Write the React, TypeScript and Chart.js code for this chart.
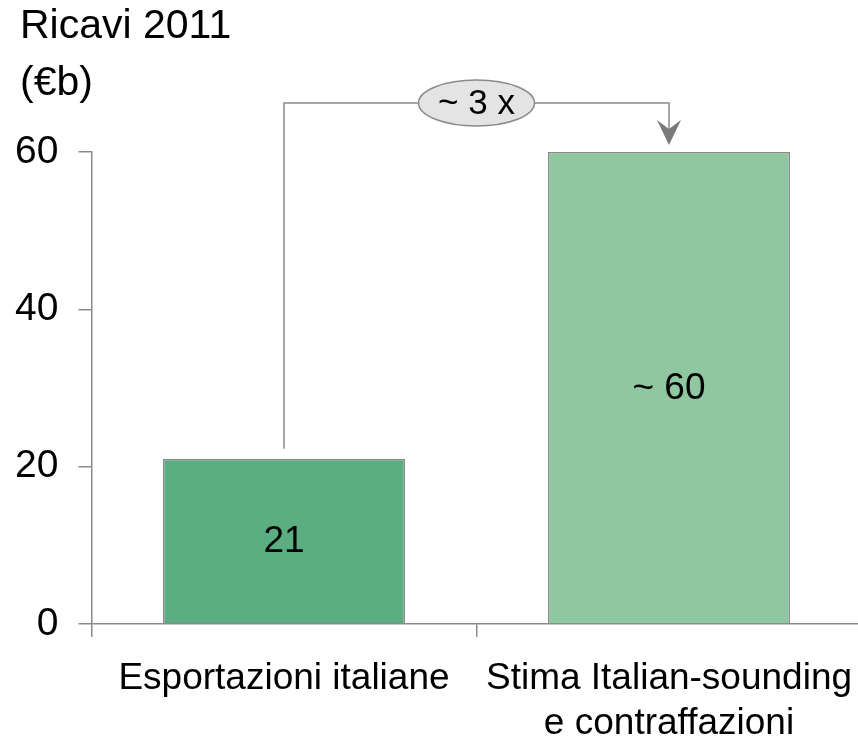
import React, { useEffect, useRef } from 'react';
import { Chart, registerables } from 'chart.js';

Chart.register(...registerables);

const categories: string[][] = [['Esportazioni italiane'], ['Stima Italian-sounding', 'e contraffazioni']];
const values: number[] = [21, 60];
const valueLabels: string[] = ['21', '~ 60'];
const barColors: string[] = ['#5bae82', '#8fc8a0'];
const yTicks: number[] = [0, 20, 40, 60];
const titleLines: string[] = ['Ricavi 2011', '(€b)'];
const ratioLabel = '~ 3 x';

const FONT = '"Liberation Sans", Arial, sans-serif';
const GREY = '#8a8a8a';

const overlay = {
  id: 'overlay',
  afterDraw(chart: any) {
    const ctx = chart.ctx as CanvasRenderingContext2D;
    const meta = chart.getDatasetMeta(0);
    const yScale = chart.scales.y;
    ctx.save();
    // title
    ctx.fillStyle = '#000';
    ctx.font = `41px ${FONT}`;
    ctx.textAlign = 'left';
    ctx.textBaseline = 'alphabetic';
    ctx.fillText(titleLines[0], 12, 30);
    ctx.fillText(titleLines[1], 12, 87);

    // value labels
    ctx.font = `37px ${FONT}`;
    ctx.textAlign = 'center';
    ctx.textBaseline = 'middle';
    meta.data.forEach((bar: any, i: number) => {
      const p = bar.getProps(['x', 'y', 'base'], true);
      ctx.fillText(valueLabels[i], p.x, (p.y + p.base) / 2 + 1);
    });

    // bracket
    const b1 = meta.data[0].getProps(['x', 'y'], true);
    const b2 = meta.data[1].getProps(['x', 'y'], true);
    const lineY = yScale.getPixelForValue(values[1]) - 49;
    const tipY = b2.y - 7;
    ctx.strokeStyle = GREY;
    ctx.lineWidth = 1.5;
    ctx.beginPath();
    ctx.moveTo(b1.x, b1.y - 10);
    ctx.lineTo(b1.x, lineY);
    ctx.lineTo(b2.x, lineY);
    ctx.lineTo(b2.x, tipY - 10);
    ctx.stroke();
    // arrow head
    ctx.fillStyle = '#7a7a7a';
    ctx.beginPath();
    ctx.moveTo(b2.x, tipY);
    ctx.lineTo(b2.x - 12, tipY - 25);
    ctx.lineTo(b2.x, tipY - 16);
    ctx.lineTo(b2.x + 12, tipY - 25);
    ctx.closePath();
    ctx.fill();

    // ellipse
    const cx = (b1.x + b2.x) / 2;
    ctx.beginPath();
    ctx.ellipse(cx, lineY, 58, 23, 0, 0, Math.PI * 2);
    ctx.fillStyle = '#e4e4e4';
    ctx.fill();
    ctx.strokeStyle = GREY;
    ctx.stroke();
    ctx.fillStyle = '#000';
    ctx.font = `35px ${FONT}`;
    ctx.textAlign = 'center';
    ctx.textBaseline = 'middle';
    ctx.fillText(ratioLabel, cx, lineY + 1);
    ctx.restore();
  },
};

export default function App() {
  const ref = useRef<HTMLCanvasElement | null>(null);
  useEffect(() => {
    if (!ref.current) return;
    const chart = new Chart(ref.current, {
      type: 'bar',
      data: {
        labels: categories,
        datasets: [
          {
            data: values,
            backgroundColor: barColors,
            borderColor: GREY,
            borderWidth: 1.5,
            categoryPercentage: 1,
            barPercentage: 0.6286,
          },
        ],
      },
      options: {
        responsive: false,
        animation: false,
        devicePixelRatio: 1,
        layout: { padding: { top: 144, right: 8.5, left: 0, bottom: 0 } },
        plugins: { legend: { display: false }, tooltip: { enabled: false }, title: { display: false } },
        scales: {
          x: {
            type: 'category',
            offset: true,
            grid: {
              display: true,
              drawOnChartArea: false,
              drawTicks: true,
              tickLength: 13,
              color: GREY,
              lineWidth: 1.5,
              offset: true,
            },
            border: { display: true, color: GREY, width: 1.5 },
            ticks: {
              color: '#000',
              font: { family: FONT, size: 37, lineHeight: 1.2 },
              padding: 20,
              maxRotation: 0,
              autoSkip: false,
            },
            afterFit: (s: any) => {
              s.height = 118;
              s.paddingLeft = 0;
              s.paddingRight = 0;
            },
          },
          y: {
            min: 0,
            max: 60,
            afterBuildTicks: (s: any) => {
              s.ticks = yTicks.map((v) => ({ value: v }));
            },
            grid: {
              display: true,
              drawOnChartArea: false,
              drawTicks: true,
              tickLength: 13,
              color: GREY,
              lineWidth: 1.5,
            },
            border: { display: true, color: GREY, width: 1.5 },
            ticks: {
              color: '#000',
              font: { family: FONT, size: 39 },
              padding: 20,
            },
            afterFit: (s: any) => {
              s.width = 83.5;
              s.paddingTop = 0;
              s.paddingBottom = 0;
            },
          },
        },
      },
      plugins: [overlay],
    });
    return () => chart.destroy();
  }, []);
  return (
    <div style={{ position: 'absolute', left: 8, top: 8, width: 850, height: 734, overflow: 'hidden' }}>
      <canvas ref={ref} width={862} height={734} style={{ display: 'block' }} />
    </div>
  );
}
